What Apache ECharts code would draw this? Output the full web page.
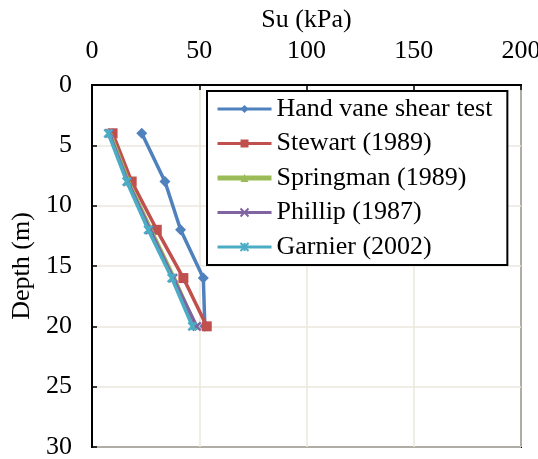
<!DOCTYPE html>
<html><head><meta charset="utf-8">
<script src="https://cdn.jsdelivr.net/npm/echarts@6/dist/echarts.min.js"></script>
<style>html,body{margin:0;padding:0;background:#fff}#c{width:538px;height:459px}</style>
</head><body><div id="c"></div>
<script>
const depths = [4, 8, 12, 16, 20];
const handVane = [23.2, 34, 41.3, 51.9, 52.6];
const stewart = [9.6, 18.5, 30.2, 42.6, 53.5];
const springman = [8.4, 17, 27.5, 38.3, 48.3];
const phillip = [8, 16.6, 27, 37.8, 48.8];
const garnier = [7.6, 16.2, 26.2, 37.2, 46.8];
const seriesNames = ['Hand vane shear test', 'Stewart (1989)', 'Springman (1989)', 'Phillip (1987)', 'Garnier (2002)'];
const xTicks = [0, 50, 100, 150, 200];
const yTicks = [0, 5, 10, 15, 20, 25, 30];

const F = 'Liberation Serif, Times New Roman, serif';
const xPath = 'path://M0,0L10,10M10,0L0,10';
const starPath = 'path://M0,0L10,10M10,0L0,10M5,0L5,10';
const cols = ['#4F81BD', '#C0504D', '#9BBB59', '#8064A2', '#4BACC6'];
const vals = [handVane, stewart, springman, phillip, garnier];
const syms = ['diamond', 'rect', 'triangle', xPath, starPath];
const symSize = [11, 10, 7, 8, 8];
const widths = [3.5, 3.5, 4, 3.5, 3.5];

const series = vals.map((v, i) => ({
  name: seriesNames[i],
  type: 'line',
  data: v.map((x, j) => [x, depths[j]]),
  symbol: syms[i],
  symbolSize: symSize[i],
  showSymbol: true,
  lineStyle: { color: cols[i], width: widths[i] },
  itemStyle: (i >= 3) ? { color: cols[i], borderColor: cols[i], borderWidth: 2.5 } : { color: cols[i] },
  z: 2 + i
}));

const legendData = seriesNames.map((n, i) => ({
  name: n,
  lineStyle: { width: i === 2 ? 5 : 3, color: cols[i] }
}));

const chart = echarts.init(document.getElementById('c'));
chart.setOption({
  animation: false,
  textStyle: { fontFamily: F },
  grid: { left: 92, right: 17, top: 85, bottom: 12, show: true, borderColor: '#000', borderWidth: 2, backgroundColor: 'transparent', containLabel: false, outerBoundsMode: 'none' },
  legend: {
    orient: 'vertical', left: 207, top: 91,
    data: legendData,
    backgroundColor: '#fff', borderColor: '#000', borderWidth: 2,
    padding: [5, 15, 5, 8],
    itemWidth: 54, itemHeight: 10, itemGap: 8.5,
    textStyle: { fontFamily: F, fontSize: 26, lineHeight: 26, color: '#000' }
  },
  xAxis: {
    type: 'value', position: 'top', min: 0, max: 200, interval: 50,
    name: 'Su (kPa)', nameLocation: 'middle', nameGap: 52,
    nameTextStyle: { fontFamily: F, fontSize: 26, color: '#000' },
    axisLine: { show: true, lineStyle: { color: '#000', width: 2 } },
    axisTick: { show: true, inside: true, length: 5, lineStyle: { color: '#000', width: 1.5 } },
    axisLabel: { fontFamily: F, fontSize: 26, color: '#000', margin: 21, formatter: v => xTicks.includes(v) ? String(v) : '' },
    splitLine: { show: true, lineStyle: { color: '#EAE7DC', width: 1.5 } }
  },
  yAxis: {
    type: 'value', inverse: true, min: 0, max: 30, interval: 5,
    name: 'Depth (m)', nameLocation: 'middle', nameGap: 56,
    nameTextStyle: { fontFamily: F, fontSize: 26, color: '#000' },
    axisLine: { show: true, lineStyle: { color: '#000', width: 2 } },
    axisTick: { show: true, inside: true, length: 5, lineStyle: { color: '#000', width: 1.5 } },
    axisLabel: { fontFamily: F, fontSize: 26, color: '#000', margin: 20, formatter: v => yTicks.includes(v) ? String(v) : '' },
    splitLine: { show: true, lineStyle: { color: '#EAE7DC', width: 1.5 } }
  },
  series: series
});
</script></body></html>
